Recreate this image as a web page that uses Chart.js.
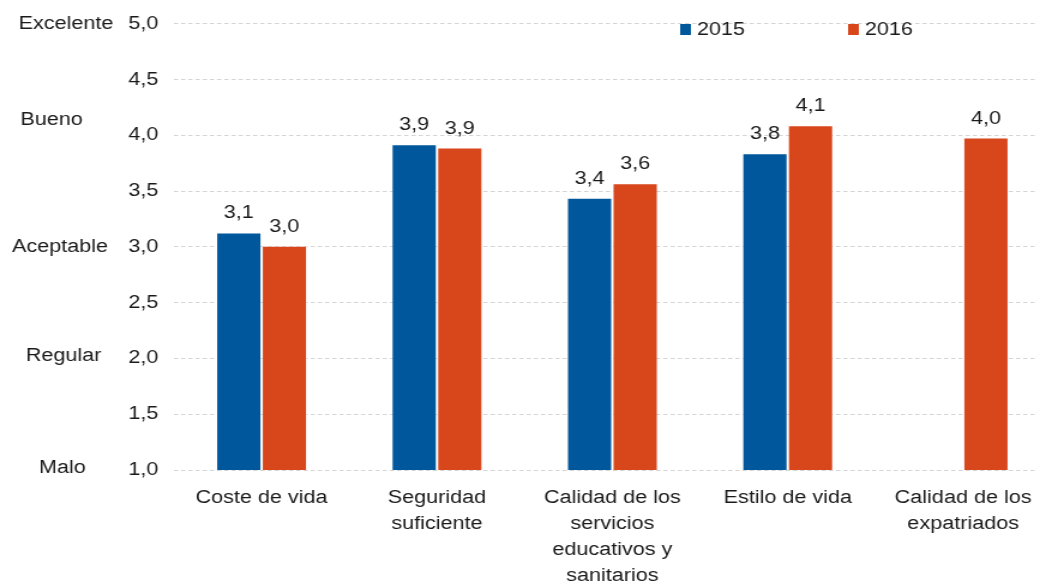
<!DOCTYPE html>
<html>
<head>
<meta charset="utf-8">
<script src="https://cdn.jsdelivr.net/npm/chart.js@4/dist/chart.umd.min.js"></script>
<style>
  html, body { margin: 0; padding: 0; background: #fff; overflow: hidden; }
  #wrap { width: 1037px; height: 583px; overflow: hidden; }
</style>
</head>
<body>
<!-- the drawing is stretched a bit in width, like the wide-set original -->
<div id="wrap"><canvas id="chart" width="877" height="583" style="width:1052px;height:583px;display:block"></canvas></div>
<script>
// Categories and series
const categories = [
    'Coste de vida',
    ['Seguridad', 'suficiente'],
    ['Calidad de los', 'servicios', 'educativos y', 'sanitarios'],
    'Estilo de vida',
    ['Calidad de los', 'expatriados']
];
const values2015 = [3.13, 3.92, 3.44, 3.84, null];
const values2016 = [3.01, 3.89, 3.57, 4.09, 3.98];

// Rating scale shown next to the y axis
const ratingNames = ['Excelente', 'Bueno', 'Aceptable', 'Regular', 'Malo'];
const ratingValues = [5.0, 4.14, 3.0, 2.02, 1.02];

const FONT = '"Liberation Sans", Arial, sans-serif';
const TEXT = '#1a1a1a';

const fmt = v => v.toFixed(1).replace('.', ',');

// value labels above bars
const valueLabels = {
    id: 'valueLabels',
    afterDatasetsDraw(chart) {
        const ctx = chart.ctx;
        ctx.save();
        ctx.font = '18px ' + FONT;
        ctx.fillStyle = TEXT;
        ctx.textAlign = 'center';
        ctx.textBaseline = 'alphabetic';
        chart.data.datasets.forEach((ds, i) => {
            chart.getDatasetMeta(i).data.forEach((bar, j) => {
                const v = ds.data[j];
                if (v == null) return;
                ctx.fillText(fmt(v), bar.x, bar.y - 14);
            });
        });
        ctx.restore();
    }
};

// rating words on the far left
const ratingLabels = {
    id: 'ratingLabels',
    afterDraw(chart) {
        const ctx = chart.ctx;
        const y = chart.scales.y;
        const cx = [55, 43, 50, 53, 52];
        ctx.save();
        ctx.font = '18px ' + FONT;
        ctx.fillStyle = TEXT;
        ctx.textAlign = 'center';
        ctx.textBaseline = 'middle';
        ratingNames.forEach((name, i) => {
            ctx.fillText(name, cx[i], y.getPixelForValue(ratingValues[i]));
        });
        ctx.restore();
    }
};

// small legend inside the plot
const topLegend = {
    id: 'topLegend',
    afterDraw(chart) {
        const ctx = chart.ctx;
        const xs = [567, 707];
        ctx.save();
        ctx.font = '18px ' + FONT;
        ctx.textBaseline = 'middle';
        ctx.textAlign = 'left';
        chart.data.datasets.forEach((ds, i) => {
            ctx.fillStyle = ds.backgroundColor;
            ctx.fillRect(xs[i], 24, 9, 11);
            ctx.fillStyle = TEXT;
            ctx.fillText(ds.label, xs[i] + 14, 30);
        });
        ctx.restore();
    }
};

new Chart(document.getElementById('chart'), {
    type: 'bar',
    data: {
        labels: categories,
        datasets: [
            { label: '2015', data: values2015, backgroundColor: '#01579B', borderColor: 'rgba(255,255,255,0.35)', borderWidth: 1 },
            { label: '2016', data: values2016, backgroundColor: '#D8461C', borderColor: 'rgba(255,255,255,0.35)', borderWidth: 1 }
        ]
    },
    options: {
        responsive: false,
        animation: false,
        layout: { padding: { top: 11, right: 1, left: 0, bottom: 0 } },
        datasets: { bar: { categoryPercentage: 0.52, barPercentage: 1.0 } },
        plugins: { legend: { display: false }, tooltip: { enabled: false } },
        scales: {
            x: {
                grid: { display: false },
                border: { display: false },
                ticks: { color: TEXT, font: { family: FONT, size: 18, lineHeight: 1.45 }, padding: 7, maxRotation: 0, autoSkip: false },
                afterFit: s => { s.height = 113; }
            },
            y: {
                min: 1, max: 5,
                grid: { color: '#d4d4d4', lineWidth: 1, drawTicks: false },
                border: { display: false, dash: [3.5, 2.5] },
                ticks: { stepSize: 0.5, color: TEXT, font: { family: FONT, size: 18 }, padding: 13, callback: v => fmt(v) },
                afterFit: s => { s.width = 145; }
            }
        }
    },
    plugins: [valueLabels, ratingLabels, topLegend]
});
</script>
</body>
</html>
